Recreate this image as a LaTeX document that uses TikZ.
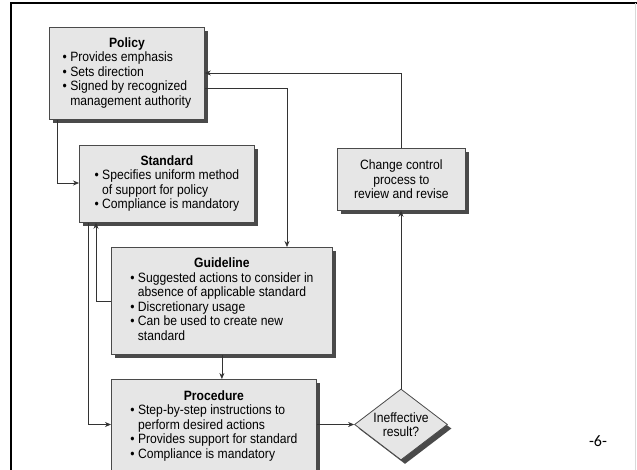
\documentclass[tikz,border=0pt]{standalone}
\usepackage{fontspec}
\setmainfont{Liberation Sans}[FakeStretch=0.9]
\newfontfamily\pagefont{Carlito}
\usetikzlibrary{arrows.meta,shapes.geometric,shadows}

\definecolor{boxfill}{HTML}{E6E6E6}
\definecolor{boxline}{HTML}{4A4A4A}
\definecolor{shade}{HTML}{4A4A4A}
\definecolor{wire}{HTML}{333333}

\newcommand{\bul}{\textbullet\ }
\newcommand{\ind}{\hphantom{\textbullet\ }}
\newcommand{\boxtitle}[1]{\multicolumn{1}{@{}c@{}}{\textbf{#1}}}

\tikzset{
  docbox/.style={draw=boxline, line width=0.8pt, fill=boxfill, anchor=north west,
    inner sep=0pt, font=\fontsize{13.5}{14.5}\selectfont,
    drop shadow={shadow xshift=4pt, shadow yshift=-4pt, fill=shade, opacity=1}},
  decide/.style={docbox, diamond, anchor=center, aspect=1.3,
    minimum width=93pt, minimum height=71pt, align=center},
  arr/.style={draw=wire, line width=0.7pt, -{Stealth[length=6pt,width=5pt]}}
}

\begin{document}
\begin{tikzpicture}[x=1pt,y=-1pt]
        \clip (0,0) rectangle (637,469);
        % Frame
        \draw[line width=2.5pt] (11,470) -- (11,2.8) -- (638,2.8);
        \draw[black!15, line width=1pt] (635.5,3) -- (635.5,470);

        % Boxes
        \node[docbox, minimum width=155pt, minimum height=92pt] (policy) at (49,27)
          {\begin{tabular}{@{}l@{}}\boxtitle{Policy}\\ \bul Provides emphasis\\ \bul Sets direction\\
           \bul Signed by recognized\\ \ind management authority\end{tabular}};
        \node[docbox, minimum width=175pt, minimum height=77pt] (stand) at (79,145)
          {\begin{tabular}{@{}l@{}}\boxtitle{Standard}\\ \bul Specifies uniform method\\
           \ind of support for policy\\ \bul Compliance is mandatory\end{tabular}};
        \node[docbox, minimum width=221pt, minimum height=107pt] (guide) at (111,247)
          {\begin{tabular}{@{}l@{}}\boxtitle{Guideline}\\ \bul Suggested actions to consider in\\
           \ind absence of applicable standard\\ \bul Discretionary usage\\
           \bul Can be used to create new\\ \ind standard\end{tabular}};
        \node[docbox, minimum width=205pt, minimum height=94pt] (proc) at (111,379)
          {\begin{tabular}{@{}l@{}}\boxtitle{Procedure}\\ \bul Step-by-step instructions to\\
           \ind perform desired actions\\ \bul Provides support for standard\\
           \bul Compliance is mandatory\end{tabular}};
        \node[docbox, minimum width=128pt, minimum height=62pt, align=center] (change) at (337,148)
          {Change control\\ process to\\ review and revise};
        \node[decide] (result) at (401,424.5) {Ineffective\\ result?};

        % Bend points
        \coordinate (loop) at (401,73);
        \coordinate (down) at (287,88);
        \coordinate (std) at (57,183);
        \coordinate (back) at (96,301);
        \coordinate (proc in) at (88,424.5);

        % Arrows
        \draw[arr] (change.north) |- (policy.east |- loop);
        \draw[arr] (policy.east |- down) -| (down |- guide.north);
        \draw[arr] (std |- policy.south) |- (stand.west |- std);
        \draw[arr] (guide.west |- back) -| (back |- stand.south);
        \draw[arr] (proc in |- stand.south) |- (proc.west |- proc in);
        \draw[arr] (guide.south) -- (guide.south |- proc.north);
        \draw[arr] (proc.east |- result.west) -- (result.west);
        \draw[arr] (result.north) -- (result.north |- change.south);

        % Page number
        \node[font=\pagefont\fontsize{16}{19}\selectfont] (page) at (598,441) {-6-};
\end{tikzpicture}
\end{document}
